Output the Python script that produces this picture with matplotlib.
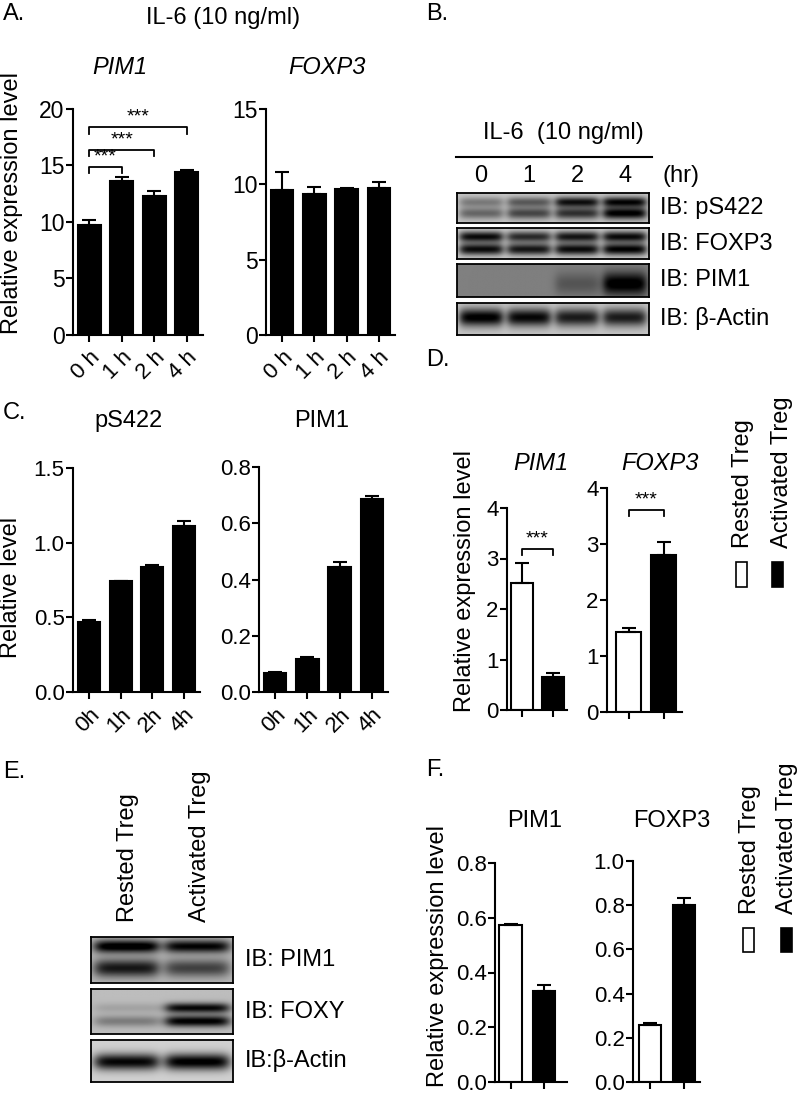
import numpy as np
import matplotlib.pyplot as plt
from matplotlib.patches import Rectangle

plt.rcParams['font.family'] = ['Liberation Sans', 'DejaVu Sans']
plt.rcParams['axes.linewidth'] = 1.5
plt.rcParams['xtick.major.width'] = 1.5
plt.rcParams['ytick.major.width'] = 1.5
plt.rcParams['xtick.major.size'] = 5
plt.rcParams['ytick.major.size'] = 5

# A. qPCR after IL-6
hours = ["0 h", "1 h", "2 h", "4 h"]
a_pim1 = [9.7, 13.6, 12.3, 14.4]
a_pim1_err = [0.45, 0.4, 0.4, 0.2]
a_pim1_sig = [(0, 1, 14.9), (0, 2, 16.4), (0, 3, 18.4)]
a_foxp3 = [9.6, 9.35, 9.7, 9.75]
a_foxp3_err = [1.2, 0.45, 0.08, 0.4]

# B. western blot band intensities (0 = none, 1 = saturated)
b_lanes = ["0", "1", "2", "4"]
b_ps422_top = [0.35, 0.5, 0.85, 0.9]
b_ps422_bot = [0.45, 0.6, 0.7, 0.95]
b_foxp3_top = [0.9, 0.75, 0.85, 0.9]
b_foxp3_bot = [0.9, 0.85, 0.9, 0.95]
b_pim1 = [0.0, 0.0, 0.2, 0.65]
b_actin = [0.95, 0.9, 0.8, 0.8]

# C. blot quantification
hours_c = ["0h", "1h", "2h", "4h"]
c_ps422 = [0.47, 0.74, 0.84, 1.11]
c_ps422_err = [0.01, 0.0, 0.01, 0.035]
c_pim1 = [0.068, 0.119, 0.445, 0.687]
c_pim1_err = [0.004, 0.006, 0.018, 0.01]

# D. rested vs activated qPCR
groups = ["Rested Treg", "Activated Treg"]
d_pim1 = [2.52, 0.66]
d_pim1_err = [0.39, 0.08]
d_foxp3 = [1.43, 2.8]
d_foxp3_err = [0.07, 0.23]

# E. western blot rested vs activated
e_pim1_top = [0.95, 0.85]
e_pim1_bot = [0.75, 0.55]
e_foxy_top = [0.12, 0.85]
e_foxy_bot = [0.3, 0.9]
e_actin = [0.95, 1.0]

# F. blot quantification
f_pim1 = [0.572, 0.333]
f_pim1_err = [0.006, 0.02]
f_foxp3 = [0.26, 0.80]
f_foxp3_err = [0.006, 0.033]

W, H = 800, 1094
fig = plt.figure(figsize=(8, 10.94), dpi=100)
FS = 17


def px_axes(x0, y0, x1, y1):
    return fig.add_axes([x0 / W, 1 - y1 / H, (x1 - x0) / W, (y1 - y0) / H])


def ftext(x, y, s, **kw):
    kw.setdefault('fontsize', FS)
    fig.text(x / W, 1 - y / H, s, **kw)


def bar_panel(ax, vals, errs, colors, xlim, ylim, yticks, fmt, labels=None, width=0.7, fs=16):
    x = np.arange(len(vals))
    ax.bar(x, vals, width=width, color=colors, edgecolor='black', linewidth=1.5,
           yerr=[np.zeros(len(vals)), errs], capsize=5,
           error_kw=dict(elinewidth=1.5, capthick=1.5, ecolor='black'))
    ax.set_xlim(*xlim)
    ax.set_ylim(*ylim)
    ax.set_yticks(yticks)
    ax.set_yticklabels([fmt.format(v) for v in yticks], fontsize=fs)
    ax.set_xticks(x)
    if labels:
        ax.set_xticklabels(labels, rotation=45, ha='right', rotation_mode='anchor', fontsize=16)
    else:
        ax.set_xticklabels([])
    ax.tick_params(axis='y', pad=1)
    ax.spines['top'].set_visible(False)
    ax.spines['right'].set_visible(False)


def sig_bracket(ax, i, j, y, tick, text='***'):
    ax.plot([i, i, j, j], [y - tick, y, y, y - tick], color='black', lw=1.3, clip_on=False)
    ax.text((i + j) / 2, y + tick * 0.2, text, ha='center', va='bottom', fontsize=14)


def blot(ax, bands, bg=0.8):
    n = len(bands[0][2])
    nx, ny = 300, 60
    xx = np.linspace(0, n, nx)
    yy = np.linspace(0, 1, ny)[:, None]
    img = np.full((ny, nx), bg)
    for yc, sig, inten in bands:
        lane = np.zeros(nx)
        for i, v in enumerate(inten):
            d = np.abs(xx - (i + 0.5))
            lane += v / (1 + np.exp((d - 0.44) / 0.05))
        img = img - 0.85 * lane[None, :] * np.exp(-0.5 * ((yy - yc) / sig) ** 2)
    ax.imshow(np.clip(img, 0, 1), cmap='gray', vmin=0, vmax=1, aspect='auto',
              interpolation='bilinear')
    ax.set_xticks([])
    ax.set_yticks([])
    for s in ax.spines.values():
        s.set_linewidth(1.3)


def legend_boxes(xw, xb, y0, y1, xt):
    for x0, c in [(xw, 'white'), (xb, 'black')]:
        fig.patches.append(Rectangle((x0 / W, 1 - y1 / H), 11 / W, (y1 - y0) / H,
                                     transform=fig.transFigure, facecolor=c,
                                     edgecolor='black', lw=1.2))
    ftext(xt[0], y0 - 14, groups[0], rotation=90, ha='center', va='bottom')
    ftext(xt[1], y0 - 14, groups[1], rotation=90, ha='center', va='bottom')


# ---- A ----
ftext(3, 14, "A.", va='center')
ftext(223, 18, "IL-6 (10 ng/ml)", ha='center', va='center')
ax = px_axes(73, 109, 203, 335)
bar_panel(ax, a_pim1, a_pim1_err, 'black', (-0.5, 3.5), (0, 20), [0, 5, 10, 15, 20], "{:g}", hours, fs=16.5)
for i, j, y in a_pim1_sig:
    sig_bracket(ax, i, j, y, 0.6)
ftext(12, 203, "Relative expression level", rotation=90, ha='center', va='center')
ftext(120, 68, "PIM1", fontstyle='italic', ha='center', va='center')

ax = px_axes(266, 109, 395, 335)
bar_panel(ax, a_foxp3, a_foxp3_err, 'black', (-0.5, 3.5), (0, 15), [0, 5, 10, 15], "{:g}", hours, fs=16.5)
ftext(327, 68, "FOXP3", fontstyle='italic', ha='center', va='center')

# ---- B ----
ftext(426, 14, "B.", va='center')
ftext(563, 133, "IL-6  (10 ng/ml)", ha='center', va='center')
fig.add_artist(plt.Line2D([456 / W, 652 / W], [1 - 157 / H, 1 - 157 / H], color='black', lw=1.5))
for k, lab in enumerate(b_lanes):
    ftext(457 + (k + 0.5) * 192 / 4, 176, lab, ha='center', va='center')
ftext(662, 176, "(hr)", va='center')
b_rows = [
    (193, 223, "IB: pS422", [(0.3, 0.12, b_ps422_top), (0.68, 0.14, b_ps422_bot)], 0.78),
    (228, 259, "IB: FOXP3", [(0.3, 0.12, b_foxp3_top), (0.7, 0.13, b_foxp3_bot)], 0.8),
    (264, 297, "IB: PIM1", [(0.6, 0.25, b_pim1)], 0.5),
    (303, 335, "IB: β-Actin", [(0.45, 0.2, b_actin)], 0.78),
]
for y0, y1, lab, bands, bg in b_rows:
    blot(px_axes(457, y0, 649, y1), bands, bg)
    ftext(660, (y0 + y1) / 2, lab, va='center')

# ---- C ----
ftext(3, 413, "C.", va='center')
ax = px_axes(73, 468, 200, 692)
bar_panel(ax, c_ps422, c_ps422_err, 'black', (-0.5, 3.5), (0, 1.5), [0, 0.5, 1.0, 1.5], "{:.1f}", hours_c)
ftext(11, 587, "Relative level", rotation=90, ha='center', va='center')
ftext(129, 421, "pS422", ha='center', va='center')
ax = px_axes(259, 467, 388, 692)
bar_panel(ax, c_pim1, c_pim1_err, 'black', (-0.5, 3.5), (0, 0.8), [0, 0.2, 0.4, 0.6, 0.8], "{:.1f}", hours_c)
ftext(322, 421, "PIM1", ha='center', va='center')

# ---- D ----
ftext(426, 360, "D.", va='center')
ax = px_axes(507, 508, 567, 710)
bar_panel(ax, d_pim1, d_pim1_err, ['white', 'black'], (-0.47, 1.45), (0, 4), [0, 1, 2, 3, 4], "{:g}")
sig_bracket(ax, 0, 1, 3.19, 0.12)
ftext(465, 581, "Relative expression level", rotation=90, ha='center', va='center')
ftext(541, 463, "PIM1", fontstyle='italic', ha='center', va='center')
ax = px_axes(607, 488, 682, 712)
bar_panel(ax, d_foxp3, d_foxp3_err, ['white', 'black'], (-0.62, 1.53), (0, 4), [0, 1, 2, 3, 4], "{:g}", width=0.72)
sig_bracket(ax, 0, 1, 3.61, 0.11)
ftext(660, 463, "FOXP3", fontstyle='italic', ha='center', va='center')
legend_boxes(736, 772, 562, 587, (743, 782))

# ---- E ----
ftext(3, 772, "E.", va='center')
ftext(128, 922, groups[0], rotation=90, ha='center', va='bottom')
ftext(200, 922, groups[1], rotation=90, ha='center', va='bottom')
e_rows = [
    (937, 983, "IB: PIM1", [(0.2, 0.1, e_pim1_top), (0.68, 0.14, e_pim1_bot)], 0.72),
    (989, 1034, "IB: FOXY", [(0.42, 0.08, e_foxy_top), (0.72, 0.09, e_foxy_bot)], 0.74),
    (1040, 1082, "IB:β-Actin", [(0.52, 0.14, e_actin)], 0.82),
]
for y0, y1, lab, bands, bg in e_rows:
    blot(px_axes(91, y0, 233, y1), bands, bg)
    ftext(245, (y0 + y1) / 2, lab, va='center')

# ---- F ----
ftext(426, 770, "F.", va='center')
ax = px_axes(495, 863, 567, 1082)
bar_panel(ax, f_pim1, f_pim1_err, ['white', 'black'], (-0.47, 1.69), (0, 0.8), [0, 0.2, 0.4, 0.6, 0.8], "{:.1f}", width=0.68)
ftext(438, 956, "Relative expression level", rotation=90, ha='center', va='center')
ftext(535, 821, "PIM1", ha='center', va='center')
ax = px_axes(633, 861, 700, 1082)
bar_panel(ax, f_foxp3, f_foxp3_err, ['white', 'black'], (-0.5, 1.47), (0, 1.0), [0, 0.2, 0.4, 0.6, 0.8, 1.0], "{:.1f}", width=0.65)
ftext(672, 821, "FOXP3", ha='center', va='center')
legend_boxes(743, 781, 928, 952, (750, 787))

fig.savefig("out.png", dpi=100)
